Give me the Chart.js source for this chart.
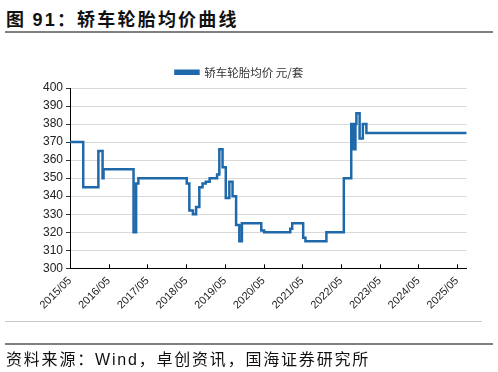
<!DOCTYPE html>
<html>
<head>
<meta charset="utf-8">
<script src="https://cdn.jsdelivr.net/npm/chart.js@4.4.0/dist/chart.umd.min.js"></script>
<style>
  html, body { margin: 0; padding: 0; background: #fff; }
  body { width: 498px; height: 372px; position: relative; overflow: hidden; }
  #wrap { position: absolute; left: 0; top: 0; width: 498px; height: 372px; }
  .title { position: absolute; left: 6px; top: 6px; font: bold 18px "Noto Sans CJK SC", "Liberation Sans", sans-serif; color: #111; letter-spacing: 2.2px; white-space: nowrap; line-height: 24px; }
  .title .num { font-family: "Liberation Sans", Arial, sans-serif; }
  .hline { position: absolute; }
  .source { position: absolute; left: 6px; top: 346px; font: 16px "Noto Sans CJK SC", sans-serif; color: #111; letter-spacing: 1.8px; white-space: nowrap; line-height: 24px; }
  .source .lat { font-family: "Liberation Sans", Arial, sans-serif; }
</style>
</head>
<body>
<div class="title">图 <span class="num">91</span>：轿车轮胎均价曲线</div>
<div class="hline" style="left:5px;top:31px;width:488px;height:2px;background:#808080;"></div>
<div id="wrap"><canvas id="c" width="498" height="372"></canvas></div>
<div class="hline" style="left:5px;top:321px;width:477px;height:1px;background:#c8c8c8;"></div>
<div class="hline" style="left:5px;top:343px;width:488px;height:2px;background:#808080;"></div>
<div class="source">资料来源：<span class="lat">Wind</span>，卓创资讯，国海证券研究所</div>
<script>
// ---- data ----
const seriesName = '轿车轮胎均价 元/套';
const dates = [
  '2015/05/01','2015/09/04','2016/01/25','2016/03/04','2016/03/13','2016/12/22',
  '2017/01/16','2017/02/07','2018/05/07','2018/06/01','2018/07/04','2018/08/04',
  '2018/09/04','2018/10/04','2018/11/04','2018/12/10','2019/02/19','2019/03/10',
  '2019/04/10','2019/05/10','2019/06/13','2019/07/13','2019/08/16','2019/09/16',
  '2019/10/10','2020/04/10','2020/05/07','2021/01/10','2021/01/28','2021/05/10',
  '2021/06/01','2021/12/16','2022/05/28','2022/08/07','2022/08/25','2022/09/16',
  '2022/09/25','2022/10/25','2022/11/25','2022/12/28','2025/08/01'
];
const prices = [
  370, 345, 365, 350, 355, 320,
  347, 350, 347, 332, 330, 334,
  345, 347, 348, 350, 352, 366,
  356, 339, 348, 340, 324, 315,
  325, 321, 320, 322, 325, 317,
  315, 320, 350, 380, 366, 380,
  386, 372, 380, 375, 375
];
const xTickLabels = ['2015/05','2016/05','2017/05','2018/05','2019/05','2020/05','2021/05','2022/05','2023/05','2024/05','2025/05'];
const yMin = 300, yMax = 400, yStep = 10;

// months since 2015/05
function monthIndex(s) {
  const [y, m, d] = s.split('/').map(Number);
  return (y - 2015) * 12 + (m - 5) + (d - 1) / 30;
}
const tickMonth = l => { const [y, m] = l.split('/').map(Number); return (y - 2015) * 12 + (m - 5); };

const points = dates.map((d, i) => ({ x: monthIndex(d), y: prices[i] }));

const innerTicks = {
  id: 'innerTicks',
  afterDraw(chart) {
    const x = chart.scales.x, ctx = chart.ctx, bottom = chart.chartArea.bottom;
    ctx.save();
    ctx.strokeStyle = '#000';
    ctx.lineWidth = 1;
    ctx.beginPath();
    xTickLabels.forEach(l => {
      const px = Math.round(x.getPixelForValue(tickMonth(l))) + 0.5;
      ctx.moveTo(px, bottom);
      ctx.lineTo(px, bottom - 4);
    });
    ctx.stroke();
    ctx.restore();
  }
};

new Chart(document.getElementById('c'), {
  type: 'line',
  data: {
    datasets: [{
      label: seriesName,
      data: points,
      stepped: true,
      borderColor: '#1f69ab',
      backgroundColor: '#1f69ab',
      borderWidth: 2.5,
      pointRadius: 0,
      borderJoinStyle: 'miter',
      fill: false
    }]
  },
  options: {
    responsive: false,
    animation: false,
    devicePixelRatio: 1,
    layout: { padding: { top: 60.5, left: 12, right: 31.3, bottom: 53.7 } },
    plugins: {
      legend: {
        display: true,
        position: 'top',
        labels: {
          boxWidth: 23, boxHeight: 3, padding: 6,
          color: '#333',
          font: { family: '"Noto Sans CJK SC", sans-serif', size: 11.5 }
        }
      },
      tooltip: { enabled: false }
    },
    scales: {
      x: {
        type: 'linear',
        min: 0,
        max: monthIndex('2025/08/01'),
        afterBuildTicks(s) { s.ticks = xTickLabels.map(l => ({ value: tickMonth(l) })); },
        afterFit(s) { s.height = 50; },
        grid: { display: false, drawTicks: false },
        border: { display: true, color: '#000', width: 1 },
        ticks: {
          autoSkip: false,
          maxRotation: 45, minRotation: 45,
          padding: 6,
          color: '#222',
          font: { family: '"Liberation Sans", Arial, sans-serif', size: 11 },
          callback(v) { const i = xTickLabels.findIndex(l => tickMonth(l) === v); return i >= 0 ? xTickLabels[i] : ''; }
        }
      },
      y: {
        min: yMin, max: yMax,
        afterFit(s) { s.width = 58; },
        grid: { color: '#d9d9d9', lineWidth: 1, tickLength: 4, tickColor: '#333' },
        border: { display: true, color: '#000', width: 1 },
        ticks: {
          stepSize: yStep,
          padding: 3,
          color: '#222',
          font: { family: '"Liberation Sans", Arial, sans-serif', size: 12 }
        }
      }
    }
  },
  plugins: [innerTicks]
});
</script>
</body>
</html>
